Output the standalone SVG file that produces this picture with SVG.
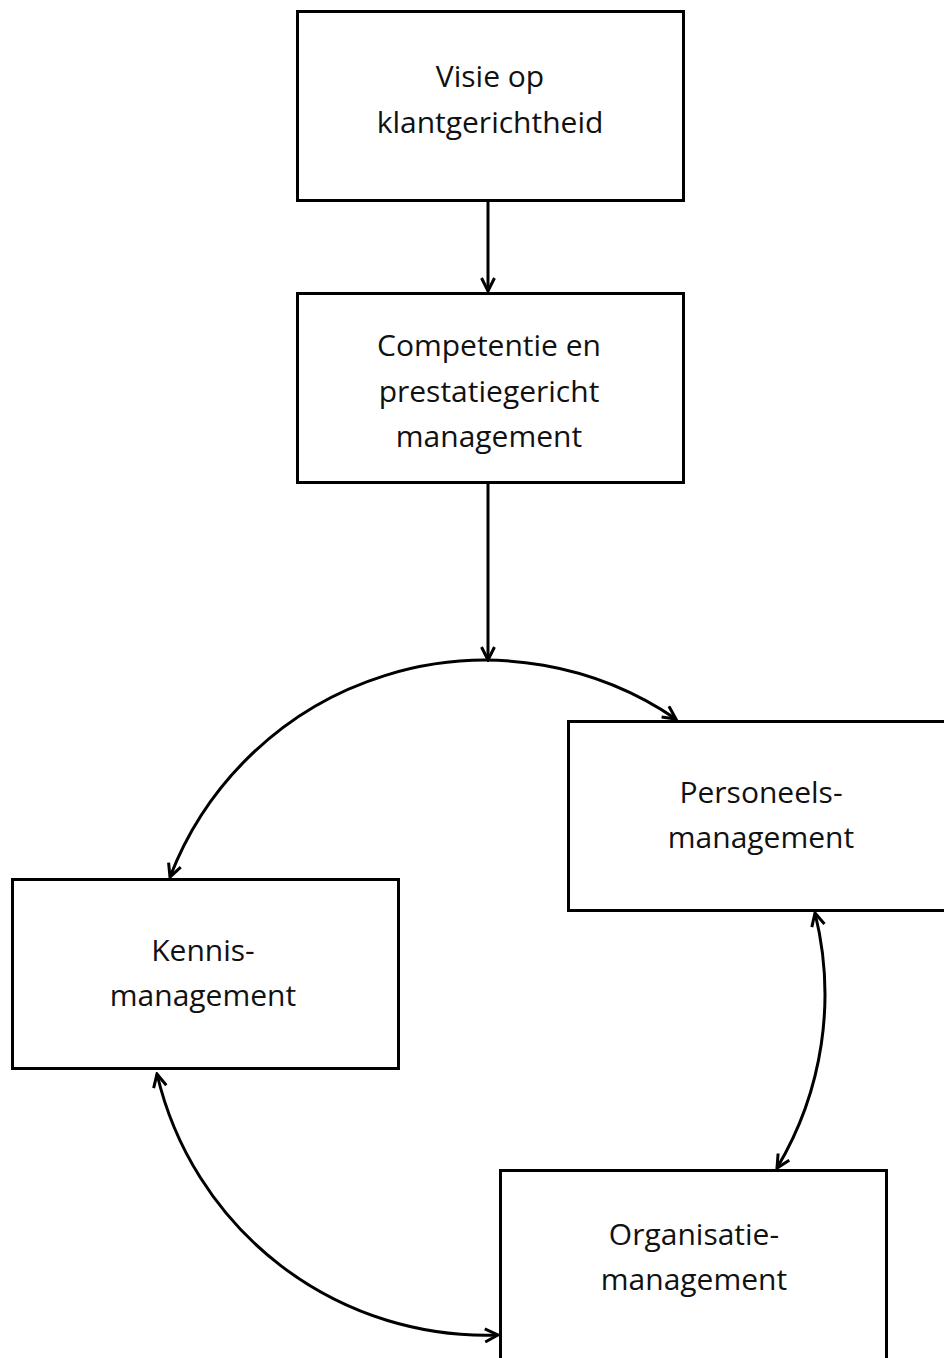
<svg xmlns="http://www.w3.org/2000/svg" width="944" height="1358" viewBox="0 0 944 1358">
<style>
.box{fill:#fff;stroke:#000;stroke-width:3}
.lbl{font-family:"Open Sans","Noto Sans",sans-serif;font-size:30px;fill:#111;text-anchor:middle}
.con{fill:none;stroke:#000;stroke-width:3}
</style>
<defs>
<marker id="ah" viewBox="0 0 16 16" refX="14" refY="8" markerWidth="16" markerHeight="16" markerUnits="userSpaceOnUse" orient="auto-start-reverse">
<path d="M1,1.5 L14,8 L1,14.5" fill="none" stroke="#000" stroke-width="3"/>
</marker>
</defs>
<rect width="944" height="1358" fill="#fff"/>
<g id="connectors">
<line class="con" x1="488" y1="202" x2="488" y2="291" marker-end="url(#ah)"/>
<line class="con" x1="488" y1="484" x2="488" y2="660" marker-end="url(#ah)"/>
<path class="con" d="M170,877 A338,338 0 0 1 676,719" marker-start="url(#ah)" marker-end="url(#ah)"/>
<path class="con" d="M157,1074 A338,338 0 0 0 498,1335" marker-start="url(#ah)" marker-end="url(#ah)"/>
<path class="con" d="M815,913 A338,338 0 0 1 777,1168" marker-start="url(#ah)" marker-end="url(#ah)"/>
</g>
<g id="visie">
<rect class="box" x="297.5" y="11.5" width="386" height="189"/>
<text class="lbl" x="490" y="87">Visie op</text>
<text class="lbl" x="490" y="133">klantgerichtheid</text>
</g>
<g id="competentie">
<rect class="box" x="297.5" y="293.5" width="386" height="189"/>
<text class="lbl" x="489" y="356">Competentie en</text>
<text class="lbl" x="489" y="402">prestatiegericht</text>
<text class="lbl" x="489" y="447">management</text>
</g>
<g id="personeels">
<rect class="box" x="568.5" y="721.5" width="386" height="189"/>
<text class="lbl" x="761" y="803">Personeels-</text>
<text class="lbl" x="761" y="848">management</text>
</g>
<g id="kennis">
<rect class="box" x="12.5" y="879.5" width="386" height="189"/>
<text class="lbl" x="203" y="961">Kennis-</text>
<text class="lbl" x="203" y="1006">management</text>
</g>
<g id="organisatie">
<rect class="box" x="500.5" y="1170.5" width="386" height="200"/>
<text class="lbl" x="694" y="1245">Organisatie-</text>
<text class="lbl" x="694" y="1290">management</text>
</g>
</svg>
